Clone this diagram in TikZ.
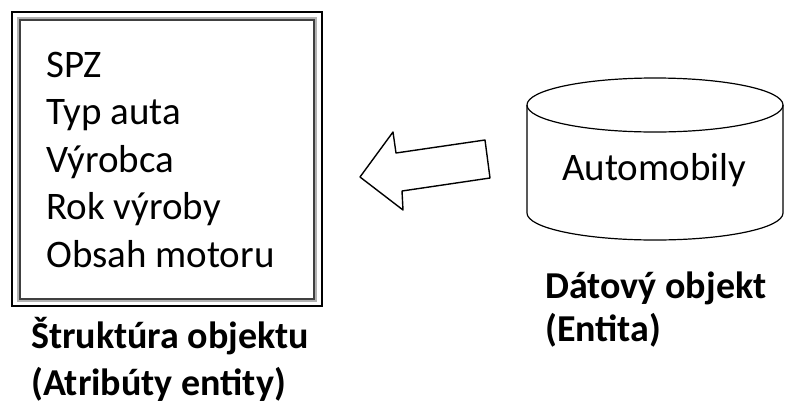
\documentclass[tikz,border=0pt]{standalone}
\usepackage{fontspec}
\setmainfont{Carlito}
\begin{document}
\begin{tikzpicture}[x=1pt,y=-1pt,
  attr/.style={anchor=base west,inner sep=0pt,font=\fontsize{39}{47}\selectfont},
  lbl/.style={anchor=base west,inner sep=0pt,font=\fontsize{38}{41}\selectfont\bfseries},
  outline/.style={draw=black,line width=1.4pt,line join=round}]
\useasboundingbox (0,0) rectangle (786,405);
% double-framed box
\draw[black,line width=2pt] (12,12) rectangle (322,306);
\draw[black!30,line width=1.6pt] (18,18) rectangle (316,301);
\draw[black!75,line width=1.6pt] (20,20) rectangle (314,299);
\node[attr] (spz) at (46,77) {SPZ};
\node[attr] (typ) at (46,124.5) {Typ auta};
\node[attr] (vyr) at (46,172) {Výrobca};
\node[attr] (rok) at (46,219.5) {Rok výroby};
\node[attr] (obs) at (46,267) {Obsah motoru};
\node[lbl] (str) at (31,348) {Štruktúra objektu};
\node[lbl] (atr) at (31,395) {(Atribúty entity)};
% block arrow
\coordinate (tip) at (360,177);
\draw[outline] (tip) -- (393,132) -- (396,153) -- (485,140) -- (490,178)
  -- (402,191) -- (403,210) -- cycle;
% cylinder
\coordinate (cl) at (527,105);
\coordinate (cr) at (783,105);
\draw[outline,line width=1.2pt] (cl) -- (527,213)
  .. controls (527,228) and (584,240) .. (655,240)
  .. controls (726,240) and (783,228) .. (783,213) -- (cr);
\draw[outline,line width=1.2pt] (cl)
  .. controls (527,90) and (584,78) .. (655,78)
  .. controls (726,78) and (783,90) .. (cr)
  .. controls (783,120) and (726,132) .. (655,132)
  .. controls (584,132) and (527,120) .. (cl) -- cycle;
\node[attr] (auto) at (562,180) {Automobily};
\node[lbl] (dat) at (545,298) {Dátový objekt};
\node[lbl] (ent) at (545,341) {(Entita)};
\end{tikzpicture}
\end{document}
